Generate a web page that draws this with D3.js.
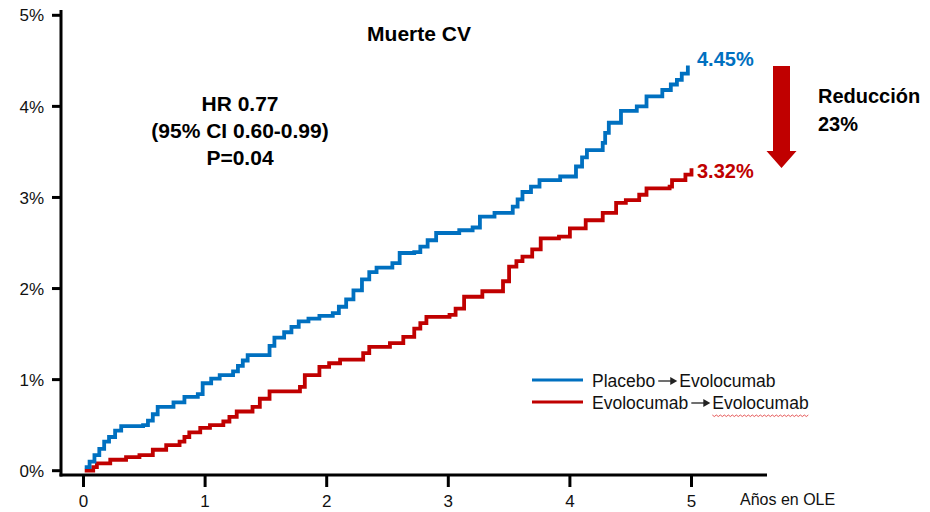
<!DOCTYPE html>
<html>
<head>
<meta charset="utf-8">
<script src="https://cdn.jsdelivr.net/npm/d3@7"></script>
<style>
  body { margin: 0; background: #fff; }
  svg { display: block; font-family: "Liberation Sans", Arial, Helvetica, sans-serif; }
</style>
</head>
<body>
<svg id="chart" width="930" height="512"></svg>
<script>
// ---- Data ----
const xTicks = [0, 1, 2, 3, 4, 5];
const yTicks = [0, 1, 2, 3, 4, 5];
const yTickLabels = ["0%", "1%", "2%", "3%", "4%", "5%"];
const seriesFrom = ["Placebo", "Evolocumab"];
const seriesTo = ["Evolocumab", "Evolocumab"];
const seriesColors = ["#0070C0", "#C00000"];

const placeboYears = [0.01,0.05,0.09,0.13,0.17,0.21,0.26,0.31,0.49,0.53,0.57,0.61,0.74,0.83,0.94,0.98,1.05,1.12,1.23,1.27,1.31,1.35,1.49,1.53,1.57,1.65,1.71,1.77,1.85,1.94,2.05,2.10,2.16,2.22,2.29,2.35,2.41,2.54,2.60,2.72,2.77,2.83,2.90,3.09,3.20,3.26,3.38,3.53,3.57,3.61,3.68,3.75,3.92,4.05,4.10,4.14,4.27,4.29,4.32,4.42,4.55,4.63,4.76,4.83,4.88,4.92,4.97];
const placeboPct   = [0.04,0.10,0.17,0.24,0.32,0.37,0.44,0.49,0.50,0.55,0.62,0.70,0.75,0.81,0.84,0.96,1.01,1.05,1.09,1.15,1.21,1.27,1.27,1.37,1.46,1.52,1.58,1.64,1.67,1.70,1.73,1.80,1.88,1.98,2.10,2.18,2.23,2.28,2.39,2.40,2.46,2.53,2.61,2.64,2.67,2.79,2.83,2.90,2.98,3.06,3.12,3.19,3.23,3.34,3.44,3.52,3.60,3.71,3.82,3.95,4.00,4.11,4.18,4.24,4.29,4.36,4.45];

const evoYears = [0.01,0.08,0.11,0.22,0.35,0.46,0.57,0.68,0.79,0.83,0.87,0.96,1.04,1.15,1.20,1.26,1.39,1.45,1.53,1.78,1.82,1.94,2.02,2.11,2.30,2.35,2.52,2.63,2.72,2.77,2.82,3.01,3.06,3.13,3.28,3.45,3.50,3.56,3.61,3.69,3.76,3.91,4.00,4.13,4.27,4.38,4.46,4.57,4.63,4.82,4.84,4.95,5.00];
const evoPct   = [0.00,0.04,0.08,0.12,0.15,0.17,0.23,0.28,0.32,0.37,0.42,0.47,0.50,0.54,0.59,0.65,0.70,0.79,0.87,0.92,1.05,1.14,1.18,1.22,1.29,1.36,1.40,1.47,1.56,1.62,1.69,1.71,1.78,1.91,1.97,2.08,2.24,2.30,2.35,2.43,2.55,2.57,2.66,2.75,2.83,2.94,2.97,3.03,3.10,3.12,3.19,3.25,3.32];

const endLabels = ["4.45%", "3.32%"];
const endValues = [4.45, 3.32];

// ---- Layout ----
const svg = d3.select("#chart");
const x = d3.scaleLinear().domain([0, 5]).range([83.5, 691.5]);
const y = d3.scaleLinear().domain([0, 5]).range([470.7, 15.3]);
const axisX0 = 61, axisY0 = 475;

// Y axis
svg.append("line").attr("x1", axisX0).attr("x2", axisX0).attr("y1", 10).attr("y2", axisY0 + 1.5)
  .attr("stroke", "#000").attr("stroke-width", 3);
yTicks.forEach((t, i) => {
  svg.append("line").attr("x1", 52).attr("x2", axisX0).attr("y1", y(t)).attr("y2", y(t))
    .attr("stroke", "#000").attr("stroke-width", 3);
  svg.append("text").attr("x", 44).attr("y", y(t)).attr("dy", "0.36em")
    .attr("text-anchor", "end").attr("font-size", 17).attr("fill", "#111").text(yTickLabels[i]);
});

// X axis
svg.append("line").attr("x1", axisX0 - 1.5).attr("x2", 767).attr("y1", axisY0).attr("y2", axisY0)
  .attr("stroke", "#000").attr("stroke-width", 3);
xTicks.forEach(t => {
  svg.append("line").attr("x1", x(t)).attr("x2", x(t)).attr("y1", axisY0).attr("y2", 487)
    .attr("stroke", "#000").attr("stroke-width", 3);
  svg.append("text").attr("x", x(t)).attr("y", 507)
    .attr("text-anchor", "middle").attr("font-size", 17).attr("fill", "#111").text(t);
});
svg.append("text").attr("x", 740).attr("y", 505).attr("font-size", 16).attr("fill", "#111").text("Años en OLE");

// Curves
const line = d3.line().x(d => x(d[0])).y(d => y(d[1])).curve(d3.curveStepAfter);
const series = [
  d3.zip(placeboYears, placeboPct),
  d3.zip(evoYears, evoPct)
];
[1, 0].forEach(i => {
  svg.append("path").datum(series[i]).attr("d", line)
    .attr("fill", "none").attr("stroke", seriesColors[i]).attr("stroke-width", 3.8)
    .attr("stroke-linejoin", "miter");
});

// End labels
endLabels.forEach((lab, i) => {
  svg.append("text").attr("x", 697).attr("y", y(endValues[i]) + (i === 0 ? 1 : 10))
    .attr("font-size", 20).attr("font-weight", "bold").attr("fill", seriesColors[i]).text(lab);
});

// Title
svg.append("text").attr("x", 419).attr("y", 40.5).attr("text-anchor", "middle")
  .attr("font-size", 21).attr("font-weight", "bold").attr("fill", "#000").text("Muerte CV");

// HR block
const hrLines = ["HR 0.77", "(95% CI 0.60-0.99)", "P=0.04"];
hrLines.forEach((s, i) => {
  svg.append("text").attr("x", 240).attr("y", 111 + i * 27).attr("text-anchor", "middle")
    .attr("font-size", 21).attr("font-weight", "bold").attr("fill", "#000").text(s);
});

// Reduction arrow
const arrowPath = d3.path();
arrowPath.moveTo(773, 66); arrowPath.lineTo(790, 66); arrowPath.lineTo(790, 151);
arrowPath.lineTo(796.5, 151); arrowPath.lineTo(781.5, 168); arrowPath.lineTo(766.5, 151);
arrowPath.lineTo(773, 151); arrowPath.closePath();
svg.append("path").attr("d", arrowPath.toString()).attr("fill", "#C00000");
svg.append("text").attr("x", 818).attr("y", 103).attr("font-size", 20).attr("font-weight", "bold")
  .attr("fill", "#000").text("Reducción");
svg.append("text").attr("x", 818).attr("y", 131).attr("font-size", 20).attr("font-weight", "bold")
  .attr("fill", "#000").text("23%");

// Legend
const legendY = [380, 402];
seriesFrom.forEach((name, i) => {
  const ly = legendY[i];
  svg.append("line").attr("x1", 532).attr("x2", 583).attr("y1", ly).attr("y2", ly)
    .attr("stroke", seriesColors[i]).attr("stroke-width", 3);
  const t1 = svg.append("text").attr("x", 592).attr("y", ly + 7).attr("font-size", 17.5)
    .attr("fill", "#111").text(name);
  const w1 = t1.node().getComputedTextLength();
  const ax0 = 592 + w1 + 3, ax1 = ax0 + 19;
  svg.append("line").attr("x1", ax0).attr("x2", ax1 - 6).attr("y1", ly + 1).attr("y2", ly + 1)
    .attr("stroke", "#222").attr("stroke-width", 1.3);
  svg.append("path").attr("d", `M${ax1 - 7},${ly - 3} L${ax1},${ly + 1} L${ax1 - 7},${ly + 5} Z`).attr("fill", "#222");
  const t2x = ax1 + 2;
  const t2 = svg.append("text").attr("x", t2x).attr("y", ly + 7).attr("font-size", 17.5)
    .attr("fill", "#111").text(seriesTo[i]);
  if (i === 1) {
    const w2 = t2.node().getComputedTextLength();
    const sq = d3.path();
    sq.moveTo(t2x, ly + 13);
    let k = 0;
    for (let xx = t2x + 2; xx <= t2x + w2; xx += 2, k++) sq.lineTo(xx, k % 2 === 0 ? ly + 14.5 : ly + 13);
    svg.append("path").attr("d", sq.toString()).attr("fill", "none").attr("stroke", "#e03030").attr("stroke-width", 0.8);
  }
});
</script>
</body>
</html>
